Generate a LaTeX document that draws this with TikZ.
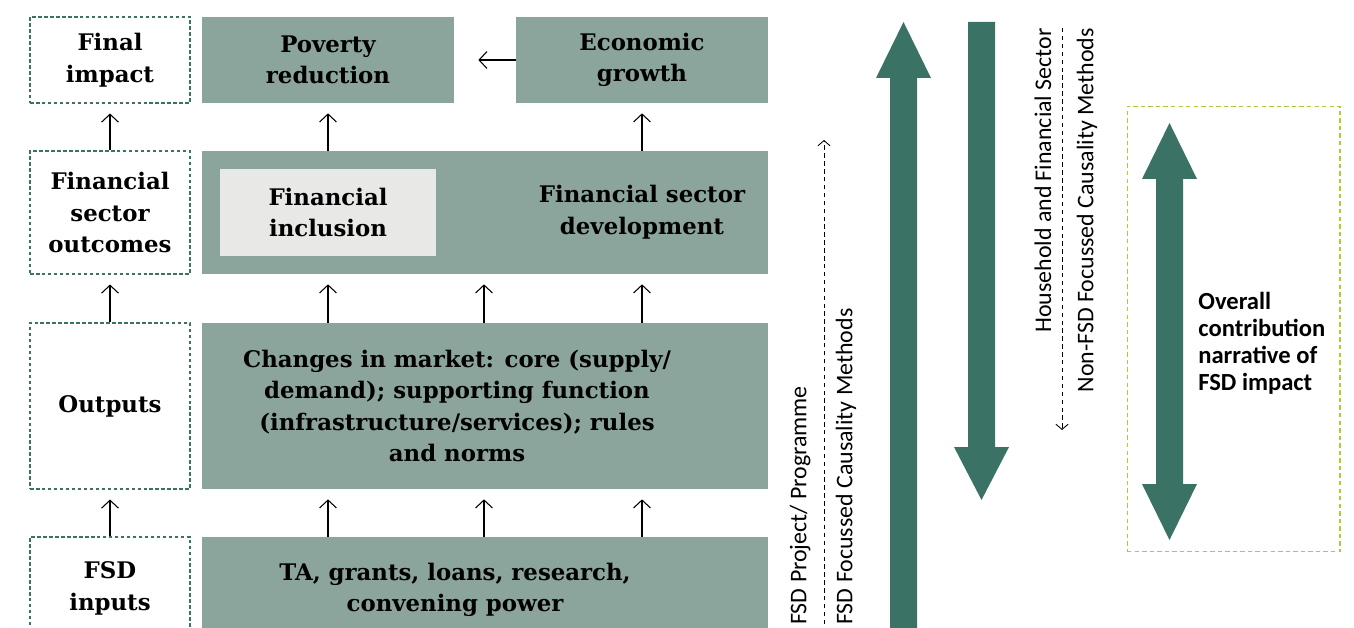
\documentclass[tikz,border=0pt]{standalone}
\usepackage{fontspec}
\setmainfont{DejaVu Serif}
\newfontfamily\sidefont{Carlito}
\usetikzlibrary{arrows.meta}
\definecolor{boxgreen}{HTML}{8BA59C}
\definecolor{darkgreen}{HTML}{3A7366}
\definecolor{palegrey}{HTML}{E8E9E6}
\definecolor{limegreen}{HTML}{A9CF38}
\begin{document}
\begin{tikzpicture}[x=0.02cm,y=-0.02cm,
    level/.style={draw=darkgreen,dash pattern=on 2pt off 1.4pt,line width=0.6pt,minimum width=3.2cm,inner sep=0pt},
    stage/.style={fill=boxgreen,inner sep=0pt},
    lbl/.style={align=center,font=\fontsize{13}{18}\selectfont\bfseries},
    up/.style={-{Straight Barb[length=4.5pt,width=9.6pt]},line width=0.6pt,shorten >=0.2cm},
    side/.style={font=\sidefont\fontsize{13.6}{15}\selectfont,rotate=90,inner sep=0pt},
    hint/.style={dash pattern=on 2.5pt off 2pt,line width=0.5pt,-{Straight Barb[length=3pt,width=7pt]}}]
  \useasboundingbox (0,0) rectangle (1354,628);
  \node[level,lbl,minimum height=1.72cm] (fi) at (110,60) {Final\\impact};
  \node[level,lbl,minimum height=2.46cm] (fso) at (110,212.5) {Financial\\sector\\outcomes};
  \node[level,lbl,minimum height=3.32cm] (out) at (110,406) {Outputs};
  \node[level,lbl,minimum height=2.06cm] (fin) at (110,588.5) {FSD\\inputs};
  \node[stage,lbl,minimum width=5.04cm,minimum height=1.72cm] (pov) at (328,60) {Poverty\\reduction};
  \node[stage,lbl,minimum width=5.04cm,minimum height=1.72cm] (eco) at (642,60) {Economic\\growth};
  \node[stage,minimum width=11.32cm,minimum height=2.46cm] (fsd) at (485,212.5) {};
  \node[fill=palegrey,lbl,minimum width=4.32cm,minimum height=1.74cm] (inc) at (328,212.5) {Financial\\inclusion};
  \node[lbl] (dev) at (642,212) {Financial sector\\development};
  \node[stage,minimum width=11.32cm,minimum height=3.32cm] (mkt) at (485,406) {};
  \node[lbl] (chg) at (457,406) {Changes in market: core (supply/\\demand); supporting function\\(infrastructure/services); rules\\and norms};
  \node[stage,minimum width=11.32cm,minimum height=2.06cm] (inp) at (485,588.5) {};
  \node[lbl] (ta) at (455,590) {TA, grants, loans, research,\\convening power};
  \coordinate (c2) at (484,0);
  \draw[up] (fso) -- (fi);
  \draw[up] (out) -- (fso);
  \draw[up] (fin) -- (out);
  \draw[up,shorten >=0.48cm] (eco) -- (pov);
  \draw[up] (fsd.north -| pov) -- (pov);
  \draw[up] (fsd.north -| eco) -- (eco);
  \foreach \c in {pov,c2,eco} {
    \draw[up] (mkt.north -| \c) -- (fsd.south -| \c);
    \draw[up] (inp.north -| \c) -- (mkt.south -| \c);
  }
  \fill[darkgreen] (903.5,22) -- (931,78) -- (917,78) -- (917,640) -- (890,640) -- (890,78) -- (876,78) -- cycle;
  \fill[darkgreen] (968,22) -- (995,22) -- (995,447) -- (1009,447) -- (981.5,500) -- (954,447) -- (968,447) -- cycle;
  \coordinate (pa) at (824,640);
  \coordinate (pb) at (824,140);
  \draw[hint] (pa) -- (pb);
  \coordinate (na) at (1062,28);
  \coordinate (nb) at (1062,430);
  \draw[hint] (na) -- (nb);
  \node[side,anchor=west] (prj) at (800,625) {FSD Project/ Programme};
  \node[side,anchor=west] (cau) at (846,625) {FSD Focussed Causality Methods};
  \node[side,anchor=east] (hh) at (1043,28) {Household and Financial Sector};
  \node[side,anchor=east] (nfsd) at (1087,28) {Non-FSD Focussed Causality Methods};
  \node[draw=limegreen,dash pattern=on 2.5pt off 1.8pt,line width=0.6pt,minimum width=4.26cm,minimum height=8.92cm] (narr) at (1233.5,329) {};
  \fill[darkgreen] (1169.5,123) -- (1197,179) -- (1183,179) -- (1183,484) -- (1197,484) -- (1169.5,540) -- (1142,484) -- (1156,484) -- (1156,179) -- (1142,179) -- cycle;
  \node[anchor=west,align=left,inner sep=0pt,font=\sidefont\fontsize{14}{15.3}\selectfont\bfseries] (ovr) at (1198,343) {Overall\\contribution\\narrative of\\FSD impact};
\end{tikzpicture}
\end{document}
